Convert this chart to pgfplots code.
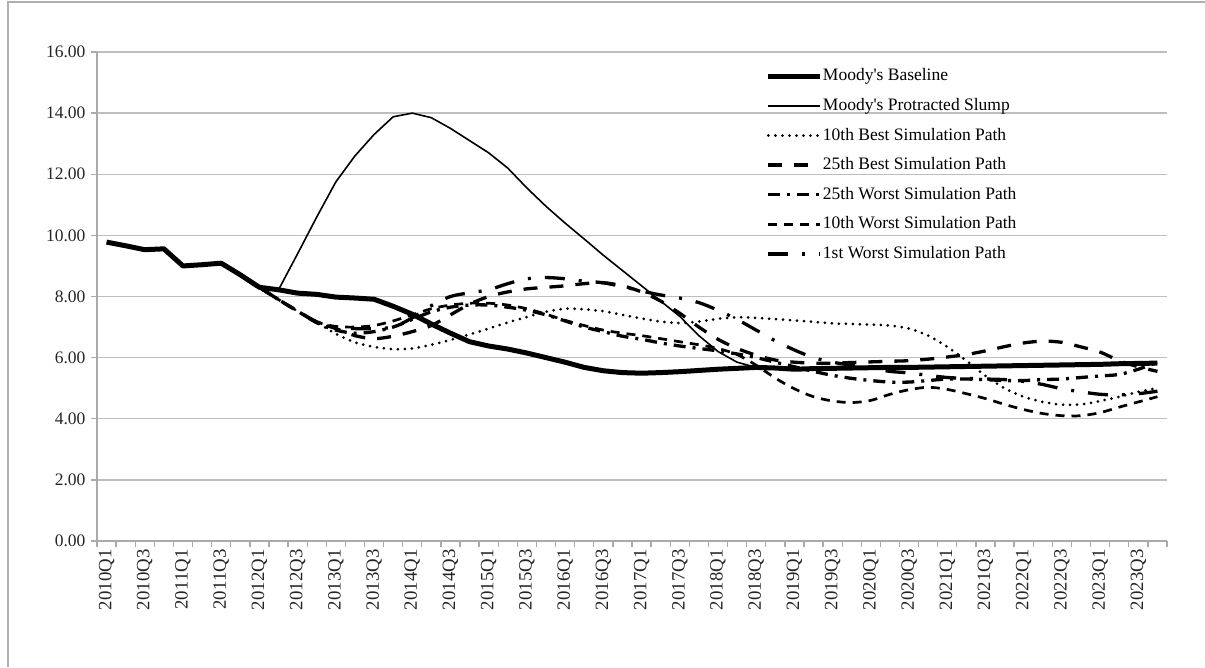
\documentclass[border=0pt]{standalone}
\usepackage{fontspec}
\setmainfont{Liberation Serif}
\usepackage{pgfplots}
\pgfplotsset{compat=1.18}

\definecolor{axisgray}{RGB}{170,170,170}
\definecolor{gridgray}{RGB}{190,190,190}
\definecolor{framegray}{RGB}{175,175,175}

\begin{document}
\begin{tikzpicture}
\useasboundingbox (0,0) rectangle (1205pt,667pt);
% chart frame
\draw[framegray, line width=2.5pt] (8pt,0pt) -- (8pt,665pt) -- (1205pt,665pt);

\begin{axis}[
  at={(97pt,126pt)}, anchor=south west,
  width=1070pt, height=489pt, scale only axis,
  xmin=-0.5, xmax=55.5, ymin=0, ymax=16,
  axis x line*=bottom, axis y line*=left,
  axis line style={draw=axisgray, line width=1.3pt},
  % labels sit on the major ticks, the visible tick marks are minor ticks
  ytick={0,2,...,16},
  minor ytick={0,2,...,16},
  xtick={0,2,...,54},
  xticklabels={2010Q1,2010Q3,2011Q1,2011Q3,2012Q1,2012Q3,2013Q1,2013Q3,2014Q1,2014Q3,2015Q1,2015Q3,2016Q1,2016Q3,2017Q1,2017Q3,2018Q1,2018Q3,2019Q1,2019Q3,2020Q1,2020Q3,2021Q1,2021Q3,2022Q1,2022Q3,2023Q1,2023Q3},
  minor xtick={-0.5,0.5,...,55.5},
  ymajorgrids, grid style={gridgray, line width=1.3pt},
  /pgf/number format/assume math mode=true,
  yticklabel={\pgfmathprintnumber[fixed,fixed zerofill,precision=2]{\tick}},
  tick align=outside,
  major tick length=0pt,
  minor tick length=6pt,
  tick style={draw=axisgray, line width=1.3pt},
  every tick label/.append style={font=\fontsize{17.5pt}{21pt}\selectfont, text=black!85},
  yticklabel style={xshift=-8pt},
  xticklabel style={rotate=90, anchor=east, xshift=-5pt, font=\fontsize{18.8pt}{22pt}\selectfont},
  legend cell align=left,
  legend style={draw=none, fill=none, at={(0.625,0.968)}, anchor=north west,
    font=\fontsize{17.5pt}{21pt}\selectfont, inner sep=0pt,
    nodes={inner sep=0pt, text height=13pt, text depth=4pt},
    row sep=12.6pt,
    /tikz/every odd column/.style={column sep=0pt}},
  legend image code/.code={\draw[#1] (0pt,0pt) -- (52pt,0pt);},
]

% Moody's Baseline
\addplot[black, line width=5pt, line join=round] coordinates {
(0,9.78) (1,9.66) (2,9.53) (3,9.56) (4,9.00) (5,9.04) (6,9.09) (7,8.71)
(8,8.30) (9,8.22) (10,8.11) (11,8.07) (12,7.98) (13,7.95) (14,7.91) (15,7.68)
(16,7.42) (17,7.10) (18,6.80) (19,6.52) (20,6.38) (21,6.28) (22,6.15) (23,6.00)
(24,5.85) (25,5.68) (26,5.57) (27,5.51) (28,5.49) (29,5.51) (30,5.54) (31,5.58)
(32,5.62) (33,5.65) (34,5.68) (35,5.66) (36,5.62) (37,5.64) (38,5.65) (39,5.66)
(40,5.67) (41,5.68) (42,5.68) (43,5.69) (44,5.70) (45,5.71) (46,5.72) (47,5.73)
(48,5.74) (49,5.75) (50,5.76) (51,5.77) (52,5.78) (53,5.80) (54,5.81) (55,5.82)
};
\addlegendentry{Moody\textquotesingle s Baseline}

% Moody's Protracted Slump
\addplot[black, line width=1.6pt, line join=round] coordinates {
(9,8.22) (10,9.40) (11,10.60) (12,11.75) (13,12.60) (14,13.30) (15,13.88)
(16,14.00) (17,13.85) (18,13.50) (19,13.10) (20,12.70) (21,12.20) (22,11.55) (23,10.95)
(24,10.40) (25,9.88) (26,9.35) (27,8.85) (28,8.35) (29,7.85) (30,7.35) (31,6.72)
(32,6.20) (33,5.85) (34,5.68) (35,5.66) (36,5.63) (37,5.64) (38,5.65) (39,5.66)
(40,5.67) (41,5.68) (42,5.68) (43,5.69) (44,5.70) (45,5.71) (46,5.72) (47,5.73)
(48,5.74) (49,5.75) (50,5.76) (51,5.77) (52,5.78) (53,5.80) (54,5.81) (55,5.82)
};
\addlegendentry{Moody\textquotesingle s Protracted Slump}

% 10th best simulation path
\addplot[black, line width=3pt, line cap=round, dash pattern=on 0pt off 7pt, smooth] coordinates {
(8,8.30) (9,7.90) (10,7.52) (11,7.15) (12,6.78) (13,6.50) (14,6.35) (15,6.28)
(16,6.30) (17,6.42) (18,6.58) (19,6.76) (20,6.95) (21,7.15) (22,7.33) (23,7.50)
(24,7.60) (25,7.58) (26,7.52) (27,7.40) (28,7.28) (29,7.18) (30,7.13) (31,7.18)
(32,7.27) (33,7.32) (34,7.30) (35,7.26) (36,7.22) (37,7.17) (38,7.12) (39,7.10)
(40,7.08) (41,7.05) (42,6.95) (43,6.72) (44,6.35) (45,5.90) (46,5.40) (47,5.00)
(48,4.72) (49,4.55) (50,4.46) (51,4.47) (52,4.58) (53,4.72) (54,4.88) (55,5.00)
};
\addlegendentry{10th Best Simulation Path}

% 25th best simulation path
\addplot[black, line width=3.3pt, dash pattern=on 14pt off 12pt, smooth] coordinates {
(8,8.30) (9,7.90) (10,7.52) (11,7.17) (12,6.95) (13,6.72) (14,6.62) (15,6.70)
(16,6.85) (17,7.05) (18,7.40) (19,7.75) (20,8.00) (21,8.15) (22,8.25) (23,8.30)
(24,8.35) (25,8.42) (26,8.45) (27,8.35) (28,8.15) (29,7.85) (30,7.45) (31,7.00)
(32,6.60) (33,6.30) (34,6.08) (35,5.92) (36,5.85) (37,5.82) (38,5.82) (39,5.84)
(40,5.86) (41,5.88) (42,5.90) (43,5.95) (44,6.02) (45,6.10) (46,6.22) (47,6.36)
(48,6.48) (49,6.54) (50,6.50) (51,6.35) (52,6.18) (53,5.90) (54,5.70) (55,5.55)
};
\addlegendentry{25th Best Simulation Path}

% 25th worst simulation path
\addplot[black, line width=3.3pt, dash pattern=on 12pt off 7pt on 3pt off 7pt, smooth] coordinates {
(8,8.30) (9,7.90) (10,7.52) (11,7.14) (12,6.90) (13,6.80) (14,6.85) (15,7.00)
(16,7.25) (17,7.50) (18,7.65) (19,7.72) (20,7.72) (21,7.65) (22,7.55) (23,7.40)
(24,7.20) (25,7.00) (26,6.85) (27,6.70) (28,6.60) (29,6.48) (30,6.38) (31,6.30)
(32,6.22) (33,6.12) (34,6.00) (35,5.85) (36,5.70) (37,5.55) (38,5.42) (39,5.32)
(40,5.25) (41,5.20) (42,5.20) (43,5.25) (44,5.30) (45,5.30) (46,5.28) (47,5.25)
(48,5.25) (49,5.28) (50,5.30) (51,5.35) (52,5.40) (53,5.45) (54,5.62) (55,5.85)
};
\addlegendentry{25th Worst Simulation Path}

% 10th worst simulation path
\addplot[black, line width=2.7pt, dash pattern=on 9pt off 7pt, smooth] coordinates {
(8,8.30) (9,7.90) (10,7.52) (11,7.17) (12,7.02) (13,7.00) (14,7.05) (15,7.20)
(16,7.40) (17,7.60) (18,7.72) (19,7.78) (20,7.78) (21,7.72) (22,7.60) (23,7.42)
(24,7.22) (25,7.05) (26,6.90) (27,6.80) (28,6.72) (29,6.62) (30,6.52) (31,6.42)
(32,6.30) (33,6.10) (34,5.75) (35,5.33) (36,4.98) (37,4.72) (38,4.58) (39,4.53)
(40,4.60) (41,4.80) (42,4.95) (43,5.03) (44,4.96) (45,4.82) (46,4.66) (47,4.47)
(48,4.30) (49,4.17) (50,4.10) (51,4.10) (52,4.20) (53,4.38) (54,4.55) (55,4.72)
};
\addlegendentry{10th Worst Simulation Path}

% 1st worst simulation path
\addplot[black, line width=3.3pt, dash pattern=on 20pt off 14pt on 3pt off 14pt, smooth] coordinates {
(8,8.30) (9,7.90) (10,7.52) (11,7.17) (12,7.00) (13,6.95) (14,6.95) (15,7.00)
(16,7.30) (17,7.70) (18,8.00) (19,8.12) (20,8.22) (21,8.42) (22,8.58) (23,8.62)
(24,8.58) (25,8.50) (26,8.45) (27,8.32) (28,8.18) (29,8.05) (30,7.95) (31,7.80)
(32,7.55) (33,7.25) (34,6.90) (35,6.55) (36,6.25) (37,6.00) (38,5.85) (39,5.75)
(40,5.65) (41,5.55) (42,5.50) (43,5.42) (44,5.35) (45,5.32) (46,5.30) (47,5.28)
(48,5.22) (49,5.12) (50,4.98) (51,4.88) (52,4.80) (53,4.78) (54,4.82) (55,4.90)
};
\addlegendentry{1st Worst Simulation Path}

\end{axis}
\end{tikzpicture}
\end{document}
